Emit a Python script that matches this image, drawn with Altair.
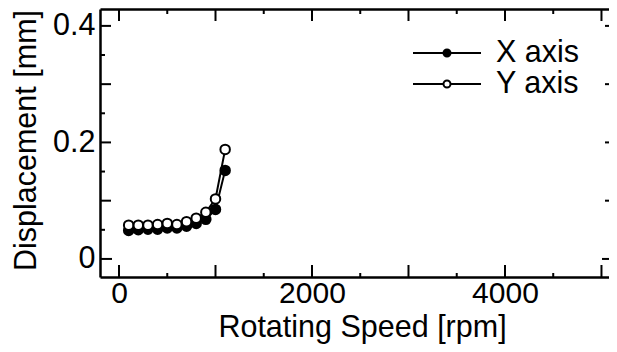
import altair as alt
import pandas as pd

# ---- data ----
speed_rpm = [100, 200, 300, 400, 500, 600, 700, 800, 900, 1000, 1100]
x_axis_mm = [0.049, 0.050, 0.051, 0.051, 0.053, 0.053, 0.056, 0.061, 0.068, 0.085, 0.152]
y_axis_mm = [0.058, 0.058, 0.058, 0.059, 0.061, 0.059, 0.064, 0.070, 0.080, 0.103, 0.188]
series_names = ["X axis", "Y axis"]

# ---- tick values ----
x_labels = [0, 2000, 4000]
y_labels = [0, 0.2, 0.4]
x_major = [0, 1000, 2000, 3000, 4000, 5000]
x_minor = [500, 1500, 2500, 3500, 4500]
y_zero = [0]
y_major = [0.1, 0.2, 0.3, 0.4]
y_minor = [0.05, 0.15, 0.25, 0.35]

rows = []
for s, vals in zip(series_names, [x_axis_mm, y_axis_mm]):
    for sp, v in zip(speed_rpm, vals):
        rows.append({"speed": sp, "disp": v, "series": s})
df = pd.DataFrame(rows)

W, H = 509, 268
FONT = "Liberation Sans"
FS = 30.5

xs = alt.Scale(domain=[-197, 5078], nice=False, zero=False)
ys = alt.Scale(domain=[-0.031, 0.429], nice=False, zero=False)

# legend symbol: a line through a small circle (unit box [-1, 1])
LEG_PATH = ("M-1,0L-0.103,0M0.103,0L1,0"
            "M-0.103,0A0.103,0.103 0 1,0 0.103,0A0.103,0.103 0 1,0 -0.103,0Z")

line = alt.Chart(df).mark_line(color="black", strokeWidth=2).encode(
    x=alt.X("speed:Q", scale=xs, axis=alt.Axis(
        orient="bottom", values=x_labels, format="d", ticks=False, grid=False,
        domain=True, domainColor="black", domainWidth=2.5,
        labelFont=FONT, labelFontSize=30, labelColor="black", labelPadding=1,
        labelFlush=False, labelOverlap=False,
        title="Rotating Speed [rpm]", titleFont=FONT, titleFontSize=FS,
        titleFontWeight="normal", titleColor="black",
        titleBaseline="alphabetic", titleX=262, titleY=59)),
    y=alt.Y("disp:Q", scale=ys, axis=alt.Axis(
        orient="left", values=y_labels, format=".1~f", ticks=False, grid=False,
        domain=True, domainColor="black", domainWidth=2.5,
        labelFont=FONT, labelFontSize=FS, labelColor="black", labelPadding=5,
        labelFlush=False, labelOverlap=False,
        title="Displacement [mm]", titleFont=FONT, titleFontSize=FS,
        titleFontWeight="normal", titleColor="black", titleAngle=270,
        titleBaseline="alphabetic", titleAlign="center", titleX=-65, titleY=131)),
    detail="series:N",
)

points = alt.Chart(df).mark_point(
    filled=True, stroke="black", strokeWidth=2, opacity=1
).encode(
    x=alt.X("speed:Q", scale=xs, axis=alt.Axis(
        orient="top", labels=False, ticks=False, grid=False, title=None,
        domain=True, domainColor="black", domainWidth=2.5)),
    y=alt.Y("disp:Q", scale=ys, axis=None),
    fill=alt.Fill("series:N", scale=alt.Scale(domain=series_names, range=["black", "white"]),
                  legend=alt.Legend(
                      title=None, orient="none", legendX=312, legendY=32,
                      symbolType=LEG_PATH, symbolSize=4624, symbolStrokeWidth=2,
                      symbolStrokeColor="black", clipHeight=24,
                      labelFont=FONT, labelFontSize=FS, labelColor="black",
                      labelOffset=14, padding=0, rowPadding=0)),
)


def hticks(vals, x0, x1):
    d = pd.DataFrame({"v": vals})
    return alt.Chart(d).mark_rule(color="black", strokeWidth=2).encode(
        y=alt.Y("v:Q", scale=ys, axis=None), x=alt.value(x0), x2=alt.value(x1))


def vticks(vals, y0, y1):
    d = pd.DataFrame({"v": vals})
    return alt.Chart(d).mark_rule(color="black", strokeWidth=2).encode(
        x=alt.X("v:Q", scale=xs, axis=None), y=alt.value(y0), y2=alt.value(y1))


ticks = [
    hticks(y_zero, 0, 12), hticks(y_major, 0, 11), hticks(y_minor, 0, 5),
    hticks(y_zero, W - 7, W), hticks(y_major, W - 4, W),
    vticks(x_major, H - 12, H), vticks(x_minor, H - 4, H),
    vticks(x_major, 0, 12), vticks(x_minor, 0, 5),
]

chart = alt.layer(line, points, *ticks).resolve_axis(
    x="independent", y="independent"
).properties(
    width=W, height=H,
    padding={"left": 92, "top": 1, "right": 0, "bottom": 67},
    autosize=alt.AutoSizeParams(type="none"),
    background="white",
).configure_view(stroke=None).configure_point(size=90)

chart.save("out.html", embed_options={"renderer": "svg", "actions": False})
